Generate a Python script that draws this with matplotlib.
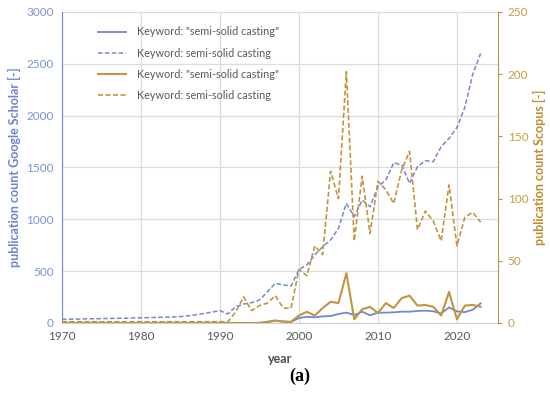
import matplotlib
matplotlib.use('Agg')
import matplotlib.pyplot as plt

# data
years = list(range(1970, 2024))

# Google Scholar, keyword semi-solid casting (dashed blue, left axis)
gs_plain = [35, 37, 38, 40, 41, 42, 44, 45, 46, 48,
            50, 52, 54, 56, 58, 62, 70, 80, 92, 105,
            120, 87, 157, 183, 196, 222, 300, 383, 367, 357,
            515, 560, 656, 736, 800, 913, 1154, 1026, 1186, 1122,
            1315, 1379, 1546, 1524, 1347, 1508, 1566, 1556, 1701, 1781,
            1885, 2080, 2400, 2600]
# Google Scholar, keyword "semi-solid casting" (solid blue, left axis)
gs_quoted = [0, 0, 0, 0, 0, 0, 0, 0, 0, 0,
             0, 0, 0, 0, 0, 0, 0, 0, 0, 0,
             0, 0, 0, 0, 0, 2, 8, 22, 15, 10,
             48, 60, 55, 64, 67, 87, 100, 77, 109, 74,
             100, 100, 103, 109, 109, 116, 119, 113, 92, 150,
             112, 105, 128, 190]
# Scopus, keyword semi-solid casting (dashed gold, right axis)
sc_plain = [1, 1, 1, 1, 1, 1, 1, 1, 1, 1,
            1, 1, 1, 1, 1, 1, 1, 1, 1, 1,
            1, 1, 9, 21, 10, 14, 16, 22, 12, 12,
            43, 38, 62, 55, 122, 100, 202, 66, 118, 72,
            114, 107, 96, 123, 138, 75, 90, 82, 66, 111,
            62, 85, 89, 81]
# Scopus, keyword "semi-solid casting" (solid gold, right axis)
sc_quoted = [0, 0, 0, 0, 0, 0, 0, 0, 0, 0,
             0, 0, 0, 0, 0, 0, 0, 0, 0, 0,
             0, 0, 0, 0, 0, 0, 1, 2, 1, 1,
             6, 9, 6, 12, 17, 16, 40, 3, 11, 13,
             8, 16, 12, 20, 22, 14, 14.5, 13, 6, 25,
             3, 14, 14.5, 13]

label_quoted = 'Keyword: "semi-solid casting"'
label_plain = 'Keyword: semi-solid casting'

blue = '#7387d3'
gold = '#bf963f'
blue_txt = '#7d93d6'
gold_txt = '#c99a45'

plt.rcParams['font.family'] = ['Lato', 'DejaVu Sans']

fig = plt.figure(figsize=(5.5, 3.97), dpi=100)
ax = fig.add_axes([0.1127, 0.1864, 0.7928, 0.7834])
ax2 = ax.twinx()

l1, = ax.plot(years, gs_quoted, color=blue, lw=1.3, label=label_quoted)
l2, = ax.plot(years, gs_plain, color=blue, lw=1.1, ls=(0, (3, 1.5)), label=label_plain)
l3, = ax2.plot(years, sc_quoted, color=gold, lw=1.5, label=label_quoted)
l4, = ax2.plot(years, sc_plain, color=gold, lw=1.2, ls=(0, (3, 1.5)), label=label_plain)

ax.set_xlim(1970, 2025.2)
ax.set_ylim(0, 3000)
ax2.set_ylim(0, 250)
ax.set_xticks(range(1970, 2030, 10))
ax.set_xticklabels(['1970', '1980', '1990', '2000', '2010', '2020'])
ax.set_yticks(range(0, 3001, 500))
ax2.set_yticks(range(0, 251, 50))

ax.grid(True, color='#dcdcdc', lw=0.9)
ax.set_axisbelow(True)

ax.spines['top'].set_visible(False)
ax2.spines['top'].set_visible(False)
ax2.spines['left'].set_visible(False)
ax2.spines['bottom'].set_visible(False)
ax.spines['right'].set_visible(False)
ax.spines['left'].set_color(blue)
ax.spines['bottom'].set_color('#d0d0d0')
ax2.spines['right'].set_color(gold)

ax.tick_params(axis='y', length=0, colors=blue_txt, labelsize=8.5, pad=6)
ax.tick_params(axis='x', length=0, colors='#595959', labelsize=8.5, pad=6)
ax2.tick_params(axis='y', length=3, color=gold, labelcolor=gold_txt, labelsize=8.5, pad=4)

ax.set_ylabel('publication count Google Scholar [-]', color='#6b84d2', fontsize=9,
              fontweight='bold', labelpad=4)
ax2.set_ylabel('publication count Scopus [-]', color='#c58a2c', fontsize=9,
               fontweight='bold', labelpad=3)
ax.set_xlabel('year', color='#4d4d4d', fontsize=9, fontweight='bold', labelpad=8)

leg = ax.legend(handles=[l1, l2, l3, l4], loc='upper left', bbox_to_anchor=(0.06, 0.985),
                frameon=False, fontsize=7.8, handlelength=2.6, labelspacing=0.95,
                handletextpad=1.0)
for t in leg.get_texts():
    t.set_color('#595959')

fig.text(0.545, 0.03, '(a)', ha='center', va='bottom', fontsize=13,
         family='Liberation Serif', fontweight='bold')

fig.savefig('out.png', dpi=100)
